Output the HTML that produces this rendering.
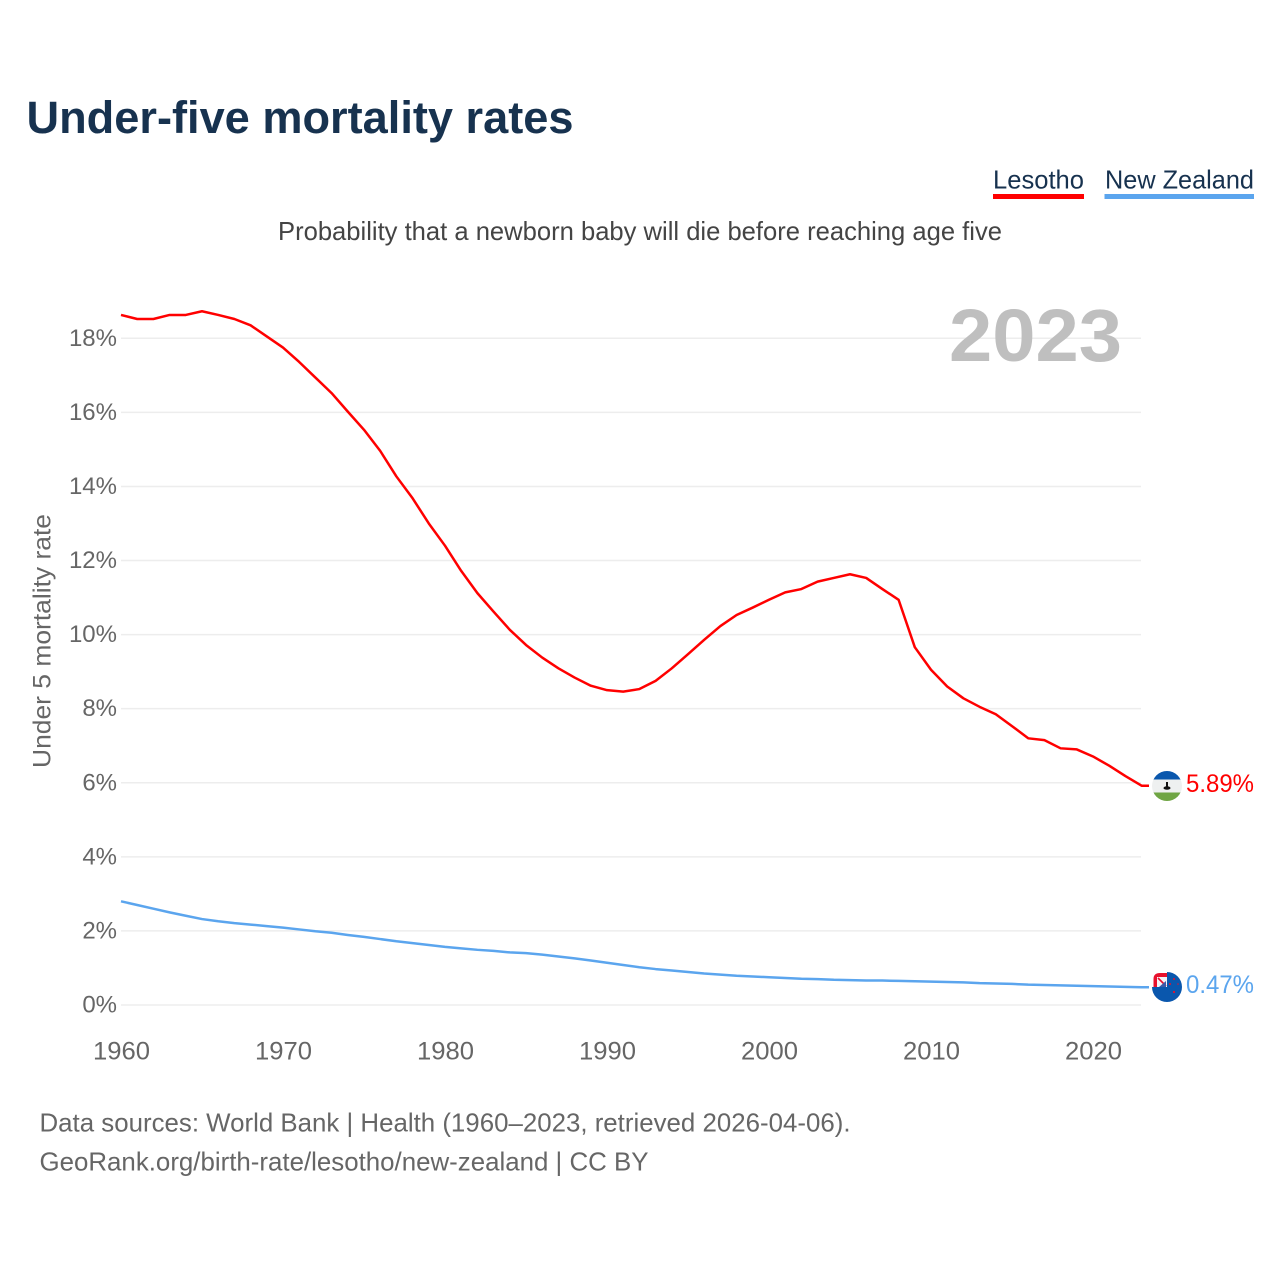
<!DOCTYPE html>
<html lang="en">
<head>
<meta charset="utf-8">
<title>Under-five mortality rates</title>
<style>
html,body{margin:0;padding:0;background:#fff;}
svg{display:block;font-family:"Liberation Sans",sans-serif;}
</style>
</head>
<body>
<svg id="chart" xmlns="http://www.w3.org/2000/svg" width="1280" height="1280" viewBox="0 0 1280 1280">
  <rect width="1280" height="1280" fill="#fff"/>
  <text x="26.500" y="133" font-size="45" font-weight="700" fill="#17324f" textLength="547" lengthAdjust="spacingAndGlyphs">Under-five mortality rates</text>
  <g>
    <text x="993" y="188.500" font-size="26" fill="#17324f" textLength="91" lengthAdjust="spacingAndGlyphs">Lesotho</text>
    <rect x="993" y="194" width="91" height="5" fill="#ff0000"/>
  </g>
  <g>
    <text x="1105" y="188.500" font-size="26" fill="#17324f" textLength="149" lengthAdjust="spacingAndGlyphs">New Zealand</text>
    <rect x="1104.500" y="194" width="149.500" height="5" fill="#5ba5ee"/>
  </g>
  <text x="278" y="240" font-size="26" fill="#444" textLength="724" lengthAdjust="spacingAndGlyphs">Probability that a newborn baby will die before reaching age five</text>
  <g id="grid"></g>
  <text x="949" y="361" font-size="74" font-weight="700" fill="#bfbfbf" textLength="173" lengthAdjust="spacingAndGlyphs">2023</text>
  <g id="yticks"></g>
  <g id="xticks"></g>
  <text transform="translate(50.500,768) rotate(-90)" x="0" y="0" font-size="25" fill="#666" textLength="254" lengthAdjust="spacingAndGlyphs">Under 5 mortality rate</text>
  <g id="series"></g>

  <defs>
    <clipPath id="ls-clip"><circle cx="1167" cy="786" r="15"/></clipPath>
    <clipPath id="nz-clip"><circle cx="1167" cy="987" r="15"/></clipPath>
  </defs>
  <g clip-path="url(#ls-clip)">
    <rect x="1150" y="770" width="34" height="10" fill="#0a57ad"/>
    <rect x="1150" y="779.500" width="34" height="13.500" fill="#eef0f0"/>
    <rect x="1150" y="792.500" width="34" height="10" fill="#6fa544"/>
    <rect x="1166" y="782" width="2" height="5" fill="#111"/>
    <ellipse cx="1167" cy="788" rx="3.500" ry="1.800" fill="#111"/>
  </g>
  <g>
    <path d="M1167 972 A15 15 0 1 1 1152 987 L1167 987 Z" fill="#0a57ad"/>
    <path d="M1153.500 987 L1153.500 979 Q1153.500 973 1160 973 L1167 973 L1167 987 Z" fill="#e8112d"/>
    <path d="M1157 987 L1157 977 L1167 977 L1167 987 Z" fill="#f4f4f8"/>
    <path d="M1158 978 L1166 986" stroke="#e8112d" stroke-width="1.600"/>
    <path d="M1159 987 L1166 987 L1166 981 Z" fill="#3d5aa8"/>
    <g fill="#e8112d">
      <circle cx="1174" cy="979" r="1"/>
      <circle cx="1170" cy="984" r="1"/>
      <circle cx="1178" cy="984" r="0.800"/>
      <circle cx="1174" cy="992" r="1.100"/>
    </g>
  </g>
  <text x="1186" y="792" font-size="25" fill="#ff0000" textLength="68" lengthAdjust="spacingAndGlyphs">5.89%</text>
  <text x="1186" y="993" font-size="25" fill="#5ba5ee" textLength="68" lengthAdjust="spacingAndGlyphs">0.47%</text>

  <text x="39.500" y="1131.500" font-size="26" fill="#666" textLength="811" lengthAdjust="spacingAndGlyphs">Data sources: World Bank | Health (1960–2023, retrieved 2026-04-06).</text>
  <text x="39.500" y="1170.500" font-size="26" fill="#666" textLength="609" lengthAdjust="spacingAndGlyphs">GeoRank.org/birth-rate/lesotho/new-zealand | CC BY</text>
</svg>
<script>
const years = [1960,1961,1962,1963,1964,1965,1966,1967,1968,1969,1970,1971,1972,1973,1974,1975,1976,1977,1978,1979,1980,1981,1982,1983,1984,1985,1986,1987,1988,1989,1990,1991,1992,1993,1994,1995,1996,1997,1998,1999,2000,2001,2002,2003,2004,2005,2006,2007,2008,2009,2010,2011,2012,2013,2014,2015,2016,2017,2018,2019,2020,2021,2022,2023];
const lesotho = [18.63,18.52,18.52,18.63,18.63,18.73,18.63,18.52,18.35,18.05,17.75,17.36,16.94,16.52,16.02,15.53,14.96,14.27,13.68,13.0,12.4,11.72,11.12,10.62,10.13,9.72,9.38,9.09,8.84,8.62,8.50,8.46,8.53,8.75,9.09,9.47,9.86,10.23,10.53,10.73,10.94,11.14,11.23,11.43,11.53,11.63,11.53,11.23,10.94,9.66,9.05,8.6,8.28,8.05,7.85,7.53,7.2,7.15,6.93,6.9,6.71,6.46,6.18,5.92];
const newZealand = [2.80,2.70,2.60,2.50,2.41,2.32,2.26,2.21,2.17,2.13,2.09,2.04,1.99,1.95,1.89,1.84,1.78,1.72,1.67,1.62,1.57,1.53,1.49,1.46,1.42,1.40,1.36,1.31,1.26,1.20,1.14,1.08,1.02,0.97,0.93,0.89,0.85,0.82,0.79,0.77,0.75,0.73,0.71,0.70,0.68,0.67,0.66,0.66,0.65,0.64,0.63,0.62,0.61,0.59,0.58,0.57,0.55,0.54,0.53,0.52,0.51,0.50,0.49,0.48];
const yTicks = [0,2,4,6,8,10,12,14,16,18];
const xTicks = [1960,1970,1980,1990,2000,2010,2020];

const NS = 'http://www.w3.org/2000/svg';
function xScale(year){ return 121 + (year - 1960) * 16.2; }
function yScale(value){ return 1005 - value * 37.04; }
function make(tag, parent, attrs, text){
  const el = document.createElementNS(NS, tag);
  for (const k in attrs) el.setAttribute(k, attrs[k]);
  if (text !== undefined) el.textContent = text;
  parent.appendChild(el);
  return el;
}
const gridG = document.getElementById('grid');
const yTickG = document.getElementById('yticks');
const xTickG = document.getElementById('xticks');
const seriesG = document.getElementById('series');

yTicks.forEach(function(v){
  const line = make('line', gridG, {x1:121, x2:1141, y1:yScale(v), y2:yScale(v), stroke:'#ededed', 'stroke-width':1.5});
  
  
  const label = make('text', yTickG, {x:117, y:yScale(v)+7.5, 'text-anchor':'end', 'font-size':24, fill:'#666'}, v + '%');
  
  
});
xTicks.forEach(function(y){
  const label = make('text', xTickG, {x:xScale(y)-28, y:1059.5, 'font-size':25, fill:'#666', textLength:57, lengthAdjust:'spacingAndGlyphs'}, String(y));
  
  
});
function linePoints(values){
  return values.map(function(v,i){ return xScale(years[i]).toFixed(2) + ',' + yScale(v).toFixed(2); });
}
function lastLeader(values){
  const v = values[values.length-1];
  return ' 1149,' + yScale(v).toFixed(2);
}
const nzLine = make('polyline', seriesG, {points: linePoints(newZealand).join(' ') + lastLeader(newZealand), fill:'none', stroke:'#5ba5ee', 'stroke-width':2.5, 'stroke-linejoin':'round'});


const lsLine = make('polyline', seriesG, {points: linePoints(lesotho).join(' ') + lastLeader(lesotho), fill:'none', stroke:'#ff0000', 'stroke-width':2.5, 'stroke-linejoin':'round'});


</script>
</body>
</html>
